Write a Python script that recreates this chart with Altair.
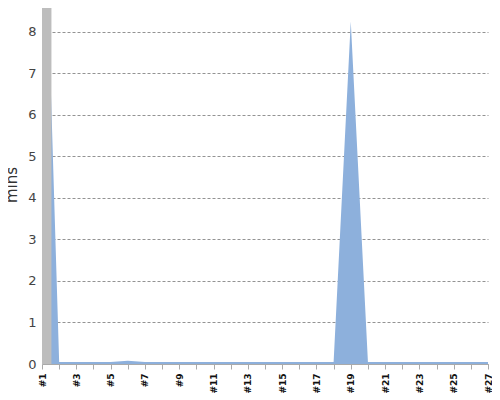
import altair as alt
import pandas as pd

runs = list(range(1, 28))
mins = [13.6, 0.05, 0.05, 0.05, 0.05, 0.08, 0.05, 0.05, 0.05, 0.05,
        0.05, 0.05, 0.05, 0.05, 0.05, 0.05, 0.05, 0.05, 8.25, 0.05,
        0.05, 0.05, 0.05, 0.05, 0.05, 0.05, 0.05]
band_start = [1.0]
band_end = [1.55]

df = pd.DataFrame({"run": runs, "mins": mins})
band = pd.DataFrame({"x": band_start, "x2": band_end})

xscale = alt.Scale(domain=[1, 27], nice=False, zero=False)
yscale = alt.Scale(domain=[0, 8.65], nice=False)

xaxis = alt.Axis(values=runs, labelExpr="datum.value % 2 == 1 ? '#' + datum.value : ''",
                 labelAngle=270, labelAlign="right", labelBaseline="middle",
                 labelFontWeight="bold", labelFontSize=9, labelColor="#111",
                 labelFont="DejaVu Sans", grid=False, title=None,
                 domainColor="#aaa", tickColor="#aaa", tickSize=5,
                 labelPadding=4, labelOverlap=False, labelBound=False,
                 labelFlush=False, labelSeparation=0)

area = alt.Chart(df).mark_area(color="#8db0dc", clip=True, opacity=1).encode(
    x=alt.X("run:Q", scale=xscale, axis=xaxis),
    y=alt.Y("mins:Q", scale=yscale,
            axis=alt.Axis(values=list(range(0, 9)), grid=True, gridDash=[3, 2],
                          gridColor="#777", gridWidth=0.8, title="mins",
                          titleFontSize=15, titleFontWeight="normal", titleColor="#333",
                          titleFont="DejaVu Sans", labelFont="DejaVu Sans",
                          labelFontSize=13, labelColor="#444", domainColor="#bbb",
                          ticks=False, labelPadding=6, titlePadding=8)),
)

gray = alt.Chart(band).mark_rect(color="#bdbdbd", clip=True).encode(
    x=alt.X("x:Q", scale=xscale, axis=xaxis),
    x2="x2:Q",
    y=alt.value(0),
    y2=alt.value(359),
)

chart = alt.layer(area, gray).properties(
    width=446, height=359,
    autosize=alt.AutoSizeParams(type="none"),
    padding={"left": 34, "top": -3, "right": 4, "bottom": 36},
).configure_view(stroke=None).configure_axis(labelOverlap=False)

chart.save("out.html", embed_options={"renderer": "svg", "actions": False})
